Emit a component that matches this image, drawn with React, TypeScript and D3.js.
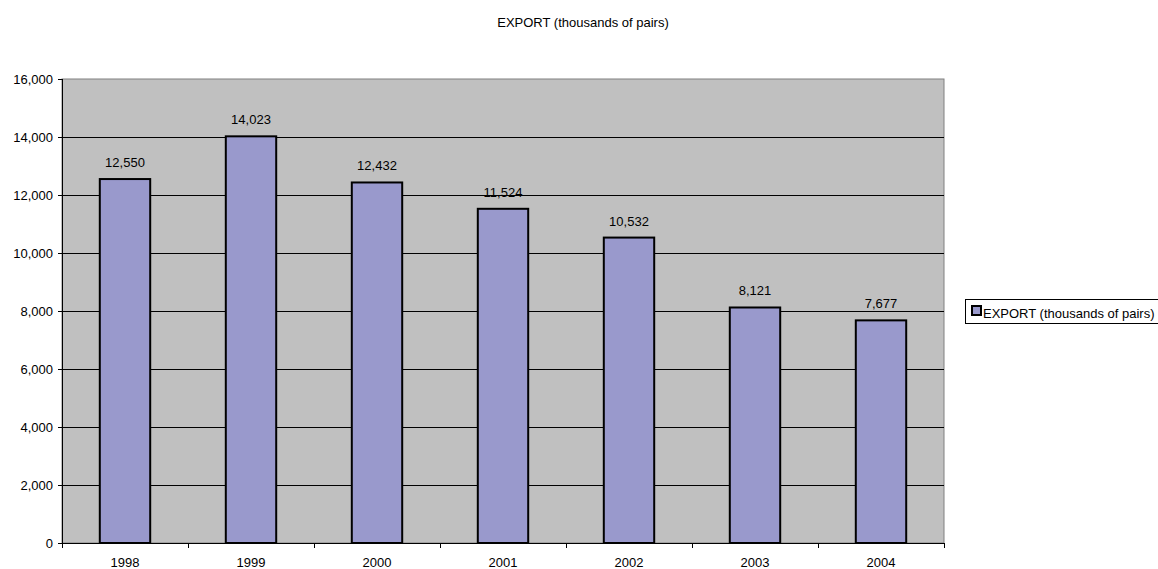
import React from "react";
import * as d3 from "d3";

const years = ["1998", "1999", "2000", "2001", "2002", "2003", "2004"];
const exportValues = [12550, 14023, 12432, 11524, 10532, 8121, 7677];
const yTicks = [0, 2000, 4000, 6000, 8000, 10000, 12000, 14000, 16000];
const title = "EXPORT (thousands of pairs)";
const seriesName = "EXPORT (thousands of pairs)";

export default function App() {
  const W = 1158, H = 569;
  const left = 62, right = 944, top = 79, bottom = 543;
  const x = d3.scaleBand().domain(years).range([left, right]).paddingInner(0.6).paddingOuter(0.3);
  const xc = d3.scaleBand().domain(years).range([left, right]);
  const y = d3.scaleLinear().domain([0, 16000]).range([bottom, top]);
  const fmt = d3.format(",");
  const font = "Liberation Sans, Arial, sans-serif";
  const fs = 13;
  return (
    <svg width={W} height={H} style={{ position: "absolute", left: 0, top: 0 }} fontFamily={font}>
      <rect x={0} y={0} width={W} height={H} fill="#fff" />
      <text x={583} y={27} textAnchor="middle" fontSize={fs} fill="#000">{title}</text>
      <rect x={left} y={top} width={right - left} height={bottom - top} fill="#C0C0C0" stroke="#808080" strokeWidth={1} />
      {yTicks.map((t) => (
        <g key={t}>
          {t > 0 && t < 16000 && (
            <line x1={left} x2={right} y1={Math.round(y(t)) + 0.5} y2={Math.round(y(t)) + 0.5} stroke="#000" strokeWidth={1} />
          )}
          <line x1={left - 4} x2={left} y1={Math.round(y(t)) + 0.5} y2={Math.round(y(t)) + 0.5} stroke="#000" />
          <text x={53} y={y(t) + 5} textAnchor="end" fontSize={fs} fill="#000">{fmt(t)}</text>
        </g>
      ))}
      {years.map((yr, i) => {
        const v = exportValues[i];
        const bx = x(yr)!;
        const bw = x.bandwidth();
        return (
          <g key={yr}>
            <rect x={bx} y={y(v)} width={bw} height={bottom - y(v)} fill="#9999CC" stroke="#000" strokeWidth={2} />
            <text x={bx + bw / 2} y={y(v) - 12} textAnchor="middle" fontSize={fs} fill="#000">{fmt(v)}</text>
            <text x={xc(yr)! + xc.bandwidth() / 2} y={bottom + 24} textAnchor="middle" fontSize={fs} fill="#000">{yr}</text>
          </g>
        );
      })}
      <line x1={left + 0.5} x2={left + 0.5} y1={top} y2={bottom} stroke="#000" />
      <line x1={left} x2={right} y1={bottom + 0.5} y2={bottom + 0.5} stroke="#000" />
      {years.concat(["end"]).map((_, i) => {
        const tx = Math.round(left + i * xc.step()) + 0.5;
        return <line key={i} x1={tx} x2={tx} y1={bottom} y2={bottom + 5} stroke="#000" />;
      })}
      <rect x={965.5} y={299.5} width={220} height={24} fill="#fff" stroke="#000" />
      <rect x={972} y={306} width={9} height={9} fill="#9999CC" stroke="#000" strokeWidth={2} />
      <text x={983} y={318} fontSize={fs} fill="#000">{seriesName}</text>
    </svg>
  );
}
